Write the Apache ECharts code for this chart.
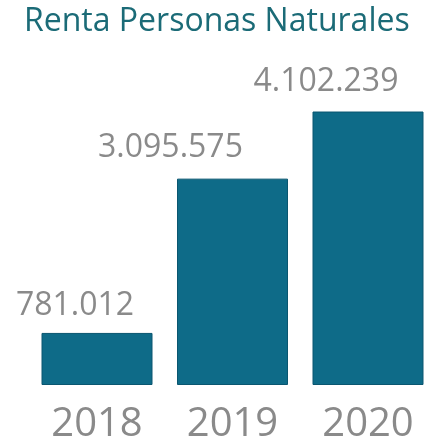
<!DOCTYPE html>
<html>
<head>
<meta charset="utf-8">
<script src="https://cdn.jsdelivr.net/npm/echarts@6/dist/echarts.min.js"></script>
<style>
  html, body { margin: 0; padding: 0; background: #fff; }
  #chart { width: 425px; height: 437px; }
</style>
</head>
<body>
<div id="chart"></div>
<script>
// datos
const years = ['2018', '2019', '2020']
const renta = [781012, 3095575, 4102239]
const rentaLabels = ['781.012', '3.095.575', '4.102.239']

const chart = echarts.init(document.getElementById('chart'))

// desplazamiento de cada etiqueta respecto al centro superior de la barra
const labelOffsets = [[-22, -11], [-62, -15], [-42, -14]]

const option = {
  animation: false,
  title: {
    text: 'Renta Personas Naturales',
    left: 19,
    top: 1,
    textStyle: {
      fontFamily: 'Open Sans',
      fontWeight: 'normal',
      fontSize: 32,
      color: '#1b6b77'
    }
  },
  // categorias en los bordes del grid (boundaryGap false)
  grid: {
    left: 97,
    right: 57,
    top: 105,
    height: 280,
    outerBoundsMode: 'none'
  },
  xAxis: {
    type: 'category',
    data: years,
    boundaryGap: false,
    axisLine: { show: false },
    axisTick: { show: false },
    axisLabel: {
      fontFamily: 'Open Sans',
      fontSize: 40,
      color: '#8a8a8a',
      margin: 20
    }
  },
  yAxis: {
    type: 'value',
    min: 0,
    max: 4200000,
    show: false
  },
  series: [
    {
      type: 'bar',
      barWidth: 111,
      clip: false,
      data: renta.map((v, i) => ({
        value: v,
        label: {
          show: true,
          position: 'top',
          distance: 0,
          offset: labelOffsets[i],
          formatter: rentaLabels[i],
          fontFamily: 'Open Sans',
          fontSize: 32,
          color: '#8a8a8a'
        }
      })),
      itemStyle: {
        color: '#0e6b88',
        borderColor: '#0a5670',
        borderWidth: 1
      }
    }
  ]
}

chart.setOption(option)
</script>
</body>
</html>
